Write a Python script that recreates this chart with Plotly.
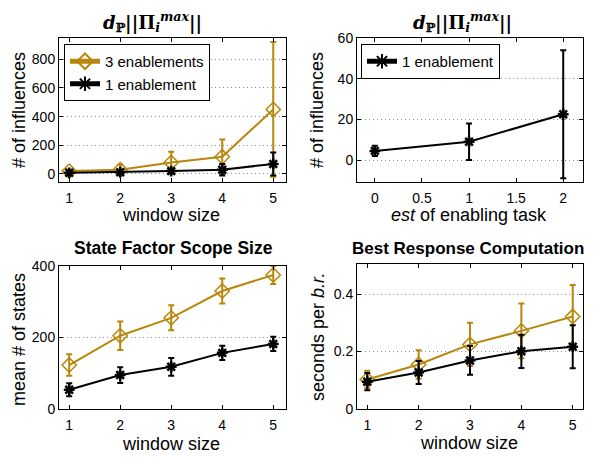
import plotly.graph_objects as go

GOLD = "#B8860B"
BLACK = "#000000"
FONT = "Liberation Sans, Arial, sans-serif"

window = [1, 2, 3, 4, 5]

# Top-left: number of influences vs window size
infl3_mean = [20, 30, 80, 120, 450]
infl3_err = [10, 35, 75, 120, 470]
infl1_mean = [8, 12, 20, 30, 70]
infl1_err = [5, 10, 15, 40, 80]

# Top-right: influences vs est of enabling task
est = [0, 1, 2]
est1_mean = [4.5, 9, 22.5]
est1_err = [2.5, 9, 31.5]

# Bottom-left: state factor scope size
scope3_mean = [123, 205, 255, 330, 375]
scope3_err = [30, 40, 35, 35, 25]
scope1_mean = [54, 95, 118, 157, 182]
scope1_err = [18, 22, 25, 20, 20]

# Bottom-right: best response computation time
br3_mean = [0.103, 0.155, 0.225, 0.272, 0.322]
br3_err = [0.03, 0.05, 0.075, 0.095, 0.11]
br1_mean = [0.095, 0.127, 0.169, 0.201, 0.217]
br1_err = [0.03, 0.04, 0.05, 0.058, 0.075]

fig = go.Figure()


def add(x, y, err, color, symbol, name, xa, ya, legend="legend", showlegend=False):
    if symbol == "diamond-open":
        marker = dict(symbol=symbol, size=11, color=color, line=dict(color=color, width=1.5))
    else:
        marker = dict(symbol=symbol, size=9, color=color, line=dict(color=color, width=2.5))
    fig.add_trace(go.Scatter(
        x=x, y=y, mode="lines+markers", name=name,
        line=dict(color=color, width=2),
        marker=marker,
        error_y=dict(type="data", array=err, visible=True, color=color,
                     thickness=2, width=3),
        xaxis=xa, yaxis=ya, showlegend=showlegend, legend=legend,
    ))


add(window, infl3_mean, infl3_err, GOLD, "diamond-open", "3 enablements", "x", "y", "legend", True)
add(window, infl1_mean, infl1_err, BLACK, "asterisk-open", "1 enablement", "x", "y", "legend", True)
add(est, est1_mean, est1_err, BLACK, "asterisk-open", "1 enablement", "x2", "y2", "legend2", True)
add(window, scope3_mean, scope3_err, GOLD, "diamond-open", "3 enablements", "x3", "y3")
add(window, scope1_mean, scope1_err, BLACK, "asterisk-open", "1 enablement", "x3", "y3")
add(window, br3_mean, br3_err, GOLD, "diamond-open", "3 enablements", "x4", "y4")
add(window, br1_mean, br1_err, BLACK, "asterisk-open", "1 enablement", "x4", "y4")

# page has an 8px body margin; figure coordinates are screen coordinates minus 8
OFF = 8
W, H = 599 - OFF, 458 - OFF


def px_x(a, b):
    return [(a - OFF) / W, (b - OFF) / W]


def px_y(top, bottom):
    return [1 - (bottom - OFF) / H, 1 - (top - OFF) / H]


def sx(a):
    return (a - OFF) / W


def sy(b):
    return 1 - (b - OFF) / H


ax_common = dict(
    showline=True, linecolor="black", linewidth=1, mirror="ticks",
    ticks="inside", ticklen=4, tickcolor="black",
    tickfont=dict(family=FONT, size=14, color="black"),
    zeroline=False, automargin=False,
)
grid_y = dict(showgrid=True, gridcolor="#909090", griddash="1px,3px", gridwidth=1)

fig.update_layout(
    width=W, height=H,
    margin=dict(l=0, r=0, t=0, b=0),
    paper_bgcolor="white", plot_bgcolor="white",
    font=dict(family=FONT, color="black"),
    xaxis=dict(domain=px_x(59, 286), range=[0.8, 5.25], tickvals=window,
               showgrid=False, anchor="y", ticklabelstandoff=3, **ax_common),
    yaxis=dict(domain=px_y(38, 182), range=[-56, 948], tickvals=[0, 200, 400, 600, 800],
               anchor="x", **grid_y, **ax_common),
    xaxis2=dict(domain=px_x(357, 583), range=[-0.19, 2.21], tickvals=[0, 0.5, 1, 1.5, 2],
                ticktext=["0", "0.5", "1", "1.5", "2"],
                showgrid=False, anchor="y2", ticklabelstandoff=3, **ax_common),
    yaxis2=dict(domain=px_y(38, 182), range=[-10.8, 60], tickvals=[0, 20, 40, 60],
                anchor="x2", **grid_y, **ax_common),
    xaxis3=dict(domain=px_x(59, 286), range=[0.8, 5.25], tickvals=window,
                showgrid=False, anchor="y3", ticklabelstandoff=3, **ax_common),
    yaxis3=dict(domain=px_y(266, 409), range=[0, 400], tickvals=[0, 200, 400],
                anchor="x3", **grid_y, **ax_common),
    xaxis4=dict(domain=px_x(357, 583), range=[0.8, 5.2], tickvals=window,
                showgrid=False, anchor="y4", ticklabelstandoff=3, **ax_common),
    yaxis4=dict(domain=px_y(264, 409), range=[0, 0.505], tickvals=[0, 0.2, 0.4],
                ticktext=["0", "0.2", "0.4"],
                anchor="x4", **grid_y, **ax_common),
    legend=dict(x=sx(64), y=sy(44), xanchor="left", yanchor="top",
                bgcolor="white", bordercolor="black", borderwidth=1,
                font=dict(family=FONT, size=15, color="black"),
                tracegroupgap=0, itemsizing="constant", itemwidth=30),
    legend2=dict(x=sx(361), y=sy(44), xanchor="left", yanchor="top",
                 bgcolor="white", bordercolor="black", borderwidth=1,
                 font=dict(family=FONT, size=15, color="black"),
                 itemsizing="constant", itemwidth=30),
)

math_title = ("<b><i>d</i><sub>ℙ</sub>||Π<sub><i>i</i></sub>"
              "<sup><i>max</i></sup>||</b>")
SERIF = "DejaVu Serif, serif"
texts = [
    # (screen x, screen y, text, size, family, angle)
    (152, 22, math_title, 18, SERIF, 0),
    (462, 22, math_title, 18, SERIF, 0),
    (174, 248, "<b>State Factor Scope Size</b>", 17.5, FONT, 0),
    (468, 248, "<b>Best Response Computation</b>", 17, FONT, 0),
    (171, 215, "window size", 18, FONT, 0),
    (469, 215, "<i>est</i> of enabling task", 18, FONT, 0),
    (171, 444, "window size", 18, FONT, 0),
    (469, 443, "window size", 18, FONT, 0),
    (19, 110, "# of influences", 18, FONT, -90),
    (317, 110, "# of influences", 18, FONT, -90),
    (19, 340, "mean # of states", 18, FONT, -90),
    (318, 337, "seconds per <i>b.r.</i>", 18, FONT, -90),
]
for x, y, t, s, fam, ang in texts:
    fig.add_annotation(x=sx(x), y=sy(y), xref="paper", yref="paper",
                       text=t, showarrow=False, xanchor="center", yanchor="middle",
                       textangle=ang,
                       font=dict(family=fam, size=s, color="black"))

fig.write_html("out.html")
